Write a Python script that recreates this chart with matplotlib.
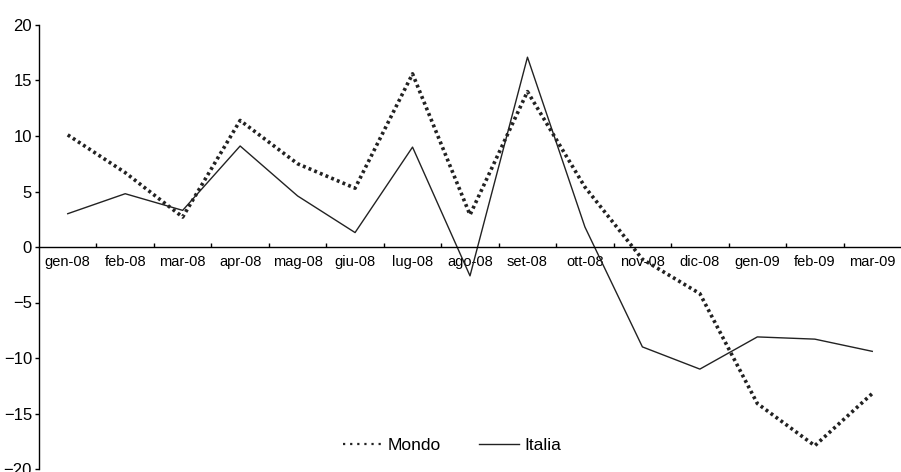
import matplotlib.pyplot as plt
from matplotlib.lines import Line2D
from matplotlib.ticker import FixedLocator, NullFormatter

plt.rcParams['font.family'] = ['Liberation Sans', 'DejaVu Sans']

mesi = ["gen-08", "feb-08", "mar-08", "apr-08", "mag-08", "giu-08", "lug-08", "ago-08",
        "set-08", "ott-08", "nov-08", "dic-08", "gen-09", "feb-09", "mar-09"]
mondo = [10.1, 6.7, 2.7, 11.4, 7.5, 5.3, 15.6, 2.9, 14.0, 5.4, -1.1, -4.2, -14.1, -17.9, -13.2]
italia = [3.0, 4.8, 3.3, 9.1, 4.6, 1.3, 9.0, -2.6, 17.1, 1.8, -9.0, -11.0, -8.1, -8.3, -9.4]

fig = plt.figure(figsize=(9.01, 4.72), dpi=100)
ax = fig.add_axes([39 / 901, 3 / 472, 1 - 39 / 901, 444 / 472])

x = range(len(mesi))
ax.plot(x, mondo, color="#222222", lw=2.6, linestyle=(0, (0.8, 0.9)), dash_capstyle="butt")
ax.plot(x, italia, color="#222222", lw=1.0)

ax.set_xlim(-0.5, len(mesi) - 0.5)
ax.set_ylim(-20, 20)
ax.set_yticks(range(-20, 21, 5))
ax.tick_params(axis="y", direction="out", length=3, width=1, labelsize=12, pad=2)

ax.spines["top"].set_visible(False)
ax.spines["right"].set_visible(False)
ax.spines["bottom"].set_position(("data", 0))
ax.spines["bottom"].set_linewidth(1)
ax.spines["left"].set_linewidth(1)

ax.set_xticks(list(x))
ax.set_xticklabels(mesi)
ax.tick_params(axis="x", which="major", length=0, labelsize=10.5, pad=6)
ax.xaxis.set_minor_locator(FixedLocator([i + 0.5 for i in range(len(mesi) - 1)]))
ax.xaxis.set_minor_formatter(NullFormatter())
ax.tick_params(axis="x", which="minor", direction="in", length=3, width=1)

handles = [Line2D([], [], color="#222222", lw=1.6, linestyle=(0, (1, 2.2))),
           Line2D([], [], color="#222222", lw=1.0)]
ax.legend(handles, ["Mondo", "Italia"], loc="lower center", bbox_to_anchor=(0.479, 0.0),
          ncol=2, frameon=False, fontsize=12.5, handlelength=2.3, handletextpad=0.3,
          columnspacing=2.2)

fig.savefig("out.png", dpi=100)
